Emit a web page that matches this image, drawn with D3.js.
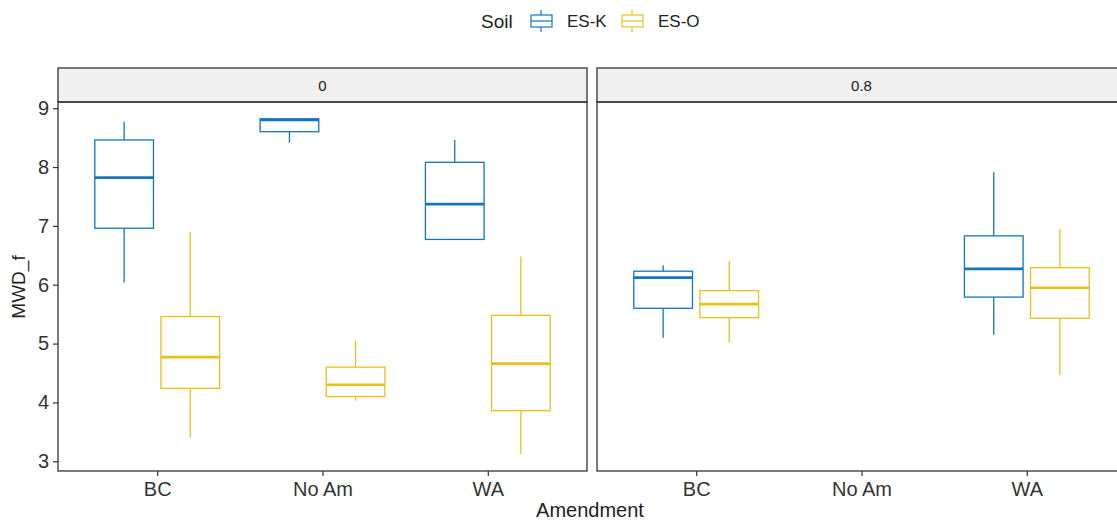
<!DOCTYPE html>
<html>
<head>
<meta charset="utf-8">
<script src="https://cdn.jsdelivr.net/npm/d3@7"></script>
<style>
  body { margin: 0; background: #fff; }
  svg { display: block; font-family: "Liberation Sans", Arial, sans-serif; }
</style>
</head>
<body>
<script>
// data: [lower whisker, q1, median, q3, upper whisker]
var amendments = ["BC", "No Am", "WA"];
var facets = ["0", "0.8"];
var soils = ["ES-K", "ES-O"];
var colors = ["#1474BC", "#E8C01A"];
var yTicks = [3, 4, 5, 6, 7, 8, 9];

var esK_0  = [[6.04, 6.96, 7.82, 8.46, 8.77], [8.41, 8.60, 8.80, 8.82, 8.82], [6.77, 6.77, 7.37, 8.08, 8.46]];
var esO_0  = [[3.40, 4.24, 4.77, 5.46, 6.90], [4.03, 4.10, 4.30, 4.60, 5.05], [3.12, 3.86, 4.66, 5.48, 6.48]];
var esK_08 = [[5.10, 5.60, 6.12, 6.23, 6.33], null, [5.15, 5.79, 6.27, 6.83, 7.91]];
var esO_08 = [[5.02, 5.44, 5.67, 5.90, 6.40], null, [4.46, 5.43, 5.95, 6.29, 6.95]];

var series = {
	"0":   [esK_0, esO_0],
	"0.8": [esK_08, esO_08]
};

var W = 1117, H = 529;
var svg = d3.select("body").append("svg")
	.attr("width", W)
	.attr("height", H);

svg.append("rect").attr("width", W).attr("height", H).attr("fill", "#fff");

var panelLeft = [58, 597];
var panelW = 529;
var stripTop = 68, panelTop = 102, panelBottom = 471;

// y scale with ggplot style 5% expansion
var allVals = [];
facets.forEach(function(f) {
	series[f].forEach(function(s) {
		s.forEach(function(b) { if (b) allVals = allVals.concat(b); });
	});
});
var lo = d3.min(allVals), hi = d3.max(allVals), pad = (hi - lo) * 0.05;
var y = d3.scaleLinear().domain([lo - pad, hi + pad]).range([panelBottom, panelTop]);

var dodge = 0.2, boxW = 0.355;

facets.forEach(function(f, fi) {
	var x0 = panelLeft[fi];
	var x = d3.scalePoint().domain(amendments).range([0, panelW]).padding(0.6);
	var step = x.step();
	var g = svg.append("g").attr("transform", "translate(" + x0 + ",0)");

	// strip
	g.append("rect")
		.attr("x", 0).attr("y", stripTop)
		.attr("width", panelW).attr("height", panelTop - stripTop)
		.attr("fill", "#f0f0f0").attr("stroke", "#333").attr("stroke-width", 1.3);
	g.append("text")
		.attr("x", panelW / 2).attr("y", (stripTop + panelTop) / 2 + 5.5)
		.attr("text-anchor", "middle")
		.attr("font-size", 15).attr("fill", "#1a1a1a")
		.text(f);

	// boxes
	series[f].forEach(function(s, si) {
		var col = colors[si];
		var off = (si === 0 ? -dodge : dodge) * step;
		var bw = boxW * step;
		var bx = g.selectAll("g.box" + si)
			.data(s.map(function(d, i) { return {a: amendments[i], v: d}; }).filter(function(d) { return d.v; }))
			.enter().append("g")
			.attr("class", "box" + si);

		bx.append("line")
			.attr("x1", function(d) { return x(d.a) + off; })
			.attr("x2", function(d) { return x(d.a) + off; })
			.attr("y1", function(d) { return y(d.v[0]); })
			.attr("y2", function(d) { return y(d.v[1]); })
			.attr("stroke", col).attr("stroke-width", 1.3);
		bx.append("line")
			.attr("x1", function(d) { return x(d.a) + off; })
			.attr("x2", function(d) { return x(d.a) + off; })
			.attr("y1", function(d) { return y(d.v[3]); })
			.attr("y2", function(d) { return y(d.v[4]); })
			.attr("stroke", col).attr("stroke-width", 1.3);
		bx.append("rect")
			.attr("x", function(d) { return x(d.a) + off - bw / 2; })
			.attr("width", bw)
			.attr("y", function(d) { return y(d.v[3]); })
			.attr("height", function(d) { return y(d.v[1]) - y(d.v[3]); })
			.attr("fill", "#fff").attr("stroke", col).attr("stroke-width", 1.3);
		bx.append("line")
			.attr("x1", function(d) { return x(d.a) + off - bw / 2; })
			.attr("x2", function(d) { return x(d.a) + off + bw / 2; })
			.attr("y1", function(d) { return y(d.v[2]); })
			.attr("y2", function(d) { return y(d.v[2]); })
			.attr("stroke", col).attr("stroke-width", 2.6);
	});

	// panel border
	g.append("rect")
		.attr("x", 0).attr("y", panelTop)
		.attr("width", panelW).attr("height", panelBottom - panelTop)
		.attr("fill", "none").attr("stroke", "#333").attr("stroke-width", 1.3);

	// x axis
	var xa = g.append("g")
		.attr("transform", "translate(0," + panelBottom + ")")
		.call(d3.axisBottom(x).tickSize(5).tickPadding(6));
	xa.select(".domain").remove();
	xa.selectAll("line").attr("stroke", "#333").attr("stroke-width", 1.2);
	xa.selectAll("text").attr("font-size", 20).attr("fill", "#333")
		.attr("font-family", "Liberation Sans, Arial, sans-serif");

	if (fi === 0) {
		var ya = g.append("g").call(d3.axisLeft(y).tickValues(yTicks).tickFormat(d3.format("d")).tickSize(5).tickPadding(4));
		ya.select(".domain").remove();
		ya.selectAll("line").attr("stroke", "#333").attr("stroke-width", 1.2);
		ya.selectAll("text").attr("font-size", 20).attr("fill", "#333")
			.attr("font-family", "Liberation Sans, Arial, sans-serif");
	}
});

// axis titles
svg.append("text")
	.attr("x", 590).attr("y", 517)
	.attr("text-anchor", "middle").attr("font-size", 20).attr("fill", "#222")
	.text("Amendment");
svg.append("text")
	.attr("transform", "translate(25,287) rotate(-90)")
	.attr("text-anchor", "middle").attr("font-size", 19).attr("fill", "#222")
	.text("MWD_f");

// legend
var leg = svg.append("g");
leg.append("text").attr("x", 481).attr("y", 28).attr("font-size", 19).attr("fill", "#222").text("Soil");
var keyX = [530, 621], labX = [567, 658];
soils.forEach(function(s, i) {
	var k = leg.append("g").attr("transform", "translate(" + keyX[i] + ",10)");
	var c = colors[i];
	k.append("line").attr("x1", 11).attr("x2", 11).attr("y1", 0).attr("y2", 5).attr("stroke", c).attr("stroke-width", 1.2);
	k.append("line").attr("x1", 11).attr("x2", 11).attr("y1", 17).attr("y2", 22).attr("stroke", c).attr("stroke-width", 1.2);
	k.append("rect").attr("x", 1).attr("y", 5).attr("width", 21).attr("height", 12)
		.attr("fill", "#fff").attr("stroke", c).attr("stroke-width", 1.2);
	k.append("line").attr("x1", 1).attr("x2", 22).attr("y1", 11).attr("y2", 11).attr("stroke", c).attr("stroke-width", 1.2);
	leg.append("text").attr("x", labX[i]).attr("y", 27).attr("font-size", 17).attr("fill", "#222").text(s);
});
</script>
</body>
</html>
